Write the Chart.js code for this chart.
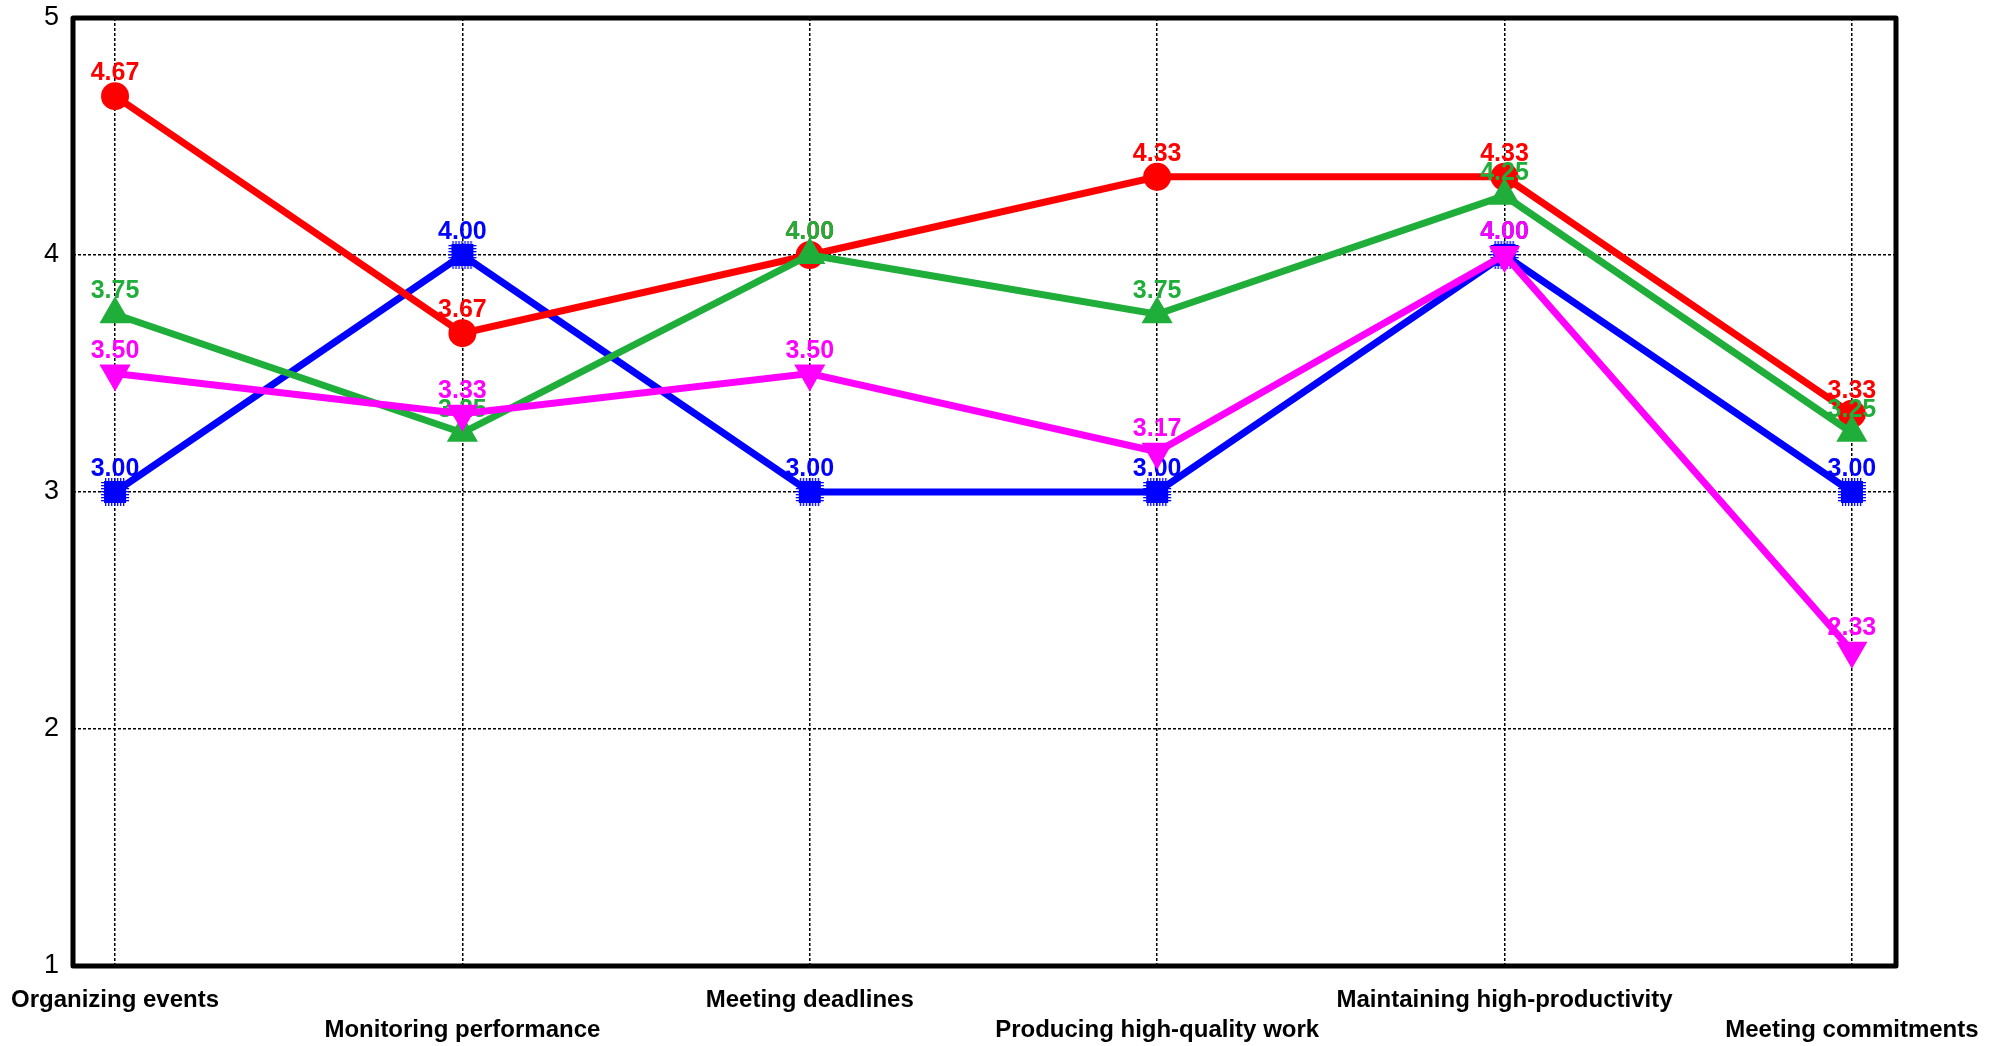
<!DOCTYPE html>
<html>
<head>
<meta charset="utf-8">
<script src="https://cdn.jsdelivr.net/npm/chart.js@4.4.1/dist/chart.umd.min.js"></script>
<style>
html,body{margin:0;padding:0;background:#ffffff;}
#wrap{width:2006px;height:1046px;}
</style>
</head>
<body>
<div id="wrap"><canvas id="c" width="2006" height="1046"></canvas></div>
<script>
const categories = ["Organizing events", "Monitoring performance", "Meeting deadlines", "Producing high-quality work", "Maintaining high-productivity", "Meeting commitments"];
const redValues = [4.67, 3.67, 4.00, 4.33, 4.33, 3.33];
const blueValues = [3.00, 4.00, 3.00, 3.00, 4.00, 3.00];
const greenValues = [3.75, 3.25, 4.00, 3.75, 4.25, 3.25];
const magentaValues = [3.50, 3.33, 3.50, 3.17, 4.00, 2.33];
const yTicks = [1, 2, 3, 4, 5];

const RED = '#ff0000', BLUE = '#0000ff', GREEN = '#1fae3a', MAGENTA = '#ff00ff';

function pts(vals) { return vals.map((v, i) => ({ x: i, y: v })); }

// chip-like square marker (square with small comb ticks on each side)
function makeChip(color) {
  const s = 30, c = document.createElement('canvas');
  c.width = s; c.height = s;
  const g = c.getContext('2d');
  g.fillStyle = color;
  g.fillRect(4, 4, 22, 22);
  for (let k = 5; k <= 24; k += 3) {
    g.fillRect(k, 1, 1.3, 3); g.fillRect(k, 26, 1.3, 3);
    g.fillRect(1, k, 3, 1.3); g.fillRect(26, k, 3, 1.3);
  }
  return c;
}

function series(vals, color, style, radius, rotation, order) {
  return {
    data: pts(vals),
    borderColor: color,
    backgroundColor: color,
    pointBackgroundColor: color,
    pointBorderColor: color,
    borderWidth: 7,
    pointBorderWidth: 2,
    pointStyle: style,
    pointRadius: radius,
    pointRotation: rotation,
    pointHoverRadius: radius,
    tension: 0,
    order: order
  };
}

const framePlugin = {
  id: 'frame',
  beforeDatasetsDraw(chart) {
    const a = chart.chartArea, ctx = chart.ctx;
    ctx.save();
    ctx.strokeStyle = '#000';
    ctx.lineWidth = 5;
    ctx.lineJoin = 'round';
    ctx.strokeRect(a.left, a.top, a.right - a.left, a.bottom - a.top);
    ctx.restore();
  }
};

const valueLabels = {
  id: 'valueLabels',
  afterDatasetDraw(chart, args) {
    const ctx = chart.ctx;
    const ds = chart.data.datasets[args.index];
    ctx.save();
    ctx.font = 'bold 25px "Liberation Sans", Arial, sans-serif';
    ctx.fillStyle = ds.borderColor;
    ctx.textAlign = 'center';
    ctx.textBaseline = 'alphabetic';
    args.meta.data.forEach((el, i) => {
      ctx.fillText(ds.data[i].y.toFixed(2), el.x, el.y - 16);
    });
    ctx.restore();
  }
};

new Chart(document.getElementById('c'), {
  type: 'line',
  data: {
    datasets: [
      series(redValues, RED, 'circle', 13, 0, 2),
      series(blueValues, BLUE, makeChip(BLUE), 15, 0, 3),
      series(greenValues, GREEN, 'triangle', 16, 0, 1),
      series(magentaValues, MAGENTA, 'triangle', 16, 180, 0)
    ]
  },
  options: {
    responsive: false,
    animation: false,
    devicePixelRatio: 1,
    events: [],
    layout: { padding: { top: 18, right: 110, left: 0, bottom: 0 } },
    plugins: { legend: { display: false }, tooltip: { enabled: false } },
    scales: {
      x: {
        type: 'linear',
        min: -0.121,
        max: 5.127,
        afterBuildTicks(scale) { scale.ticks = categories.map((c, i) => ({ value: i })); },
        afterFit(scale) {
          scale.height = 80;
          scale.paddingLeft = 0; scale.paddingRight = 0; scale.paddingTop = 0; scale.paddingBottom = 0;
        },
        grid: { color: '#000', lineWidth: 1.5, drawTicks: false },
        border: { display: false, dash: [3, 2] },
        ticks: {
          autoSkip: false,
          maxRotation: 0,
          minRotation: 0,
          padding: 19,
          color: '#000',
          font: { family: '"Liberation Sans", Arial, sans-serif', size: 24, weight: 'bold', lineHeight: 1.25 },
          callback(v) {
            const i = Math.round(v);
            const name = categories[i];
            return i % 2 === 0 ? [name] : ['', name];
          }
        }
      },
      y: {
        min: 1,
        max: 5,
        afterBuildTicks(scale) { scale.ticks = yTicks.map(v => ({ value: v })); },
        afterFit(scale) {
          scale.width = 73;
          scale.paddingLeft = 0; scale.paddingRight = 0; scale.paddingTop = 0; scale.paddingBottom = 0;
        },
        grid: { color: '#000', lineWidth: 1.5, drawTicks: false },
        border: { display: false, dash: [3, 2] },
        ticks: {
          padding: 14,
          color: '#000',
          font: { family: '"Liberation Sans", Arial, sans-serif', size: 27 },
          callback(v) { return String(v); }
        }
      }
    }
  },
  plugins: [framePlugin, valueLabels]
});
</script>
</body>
</html>
